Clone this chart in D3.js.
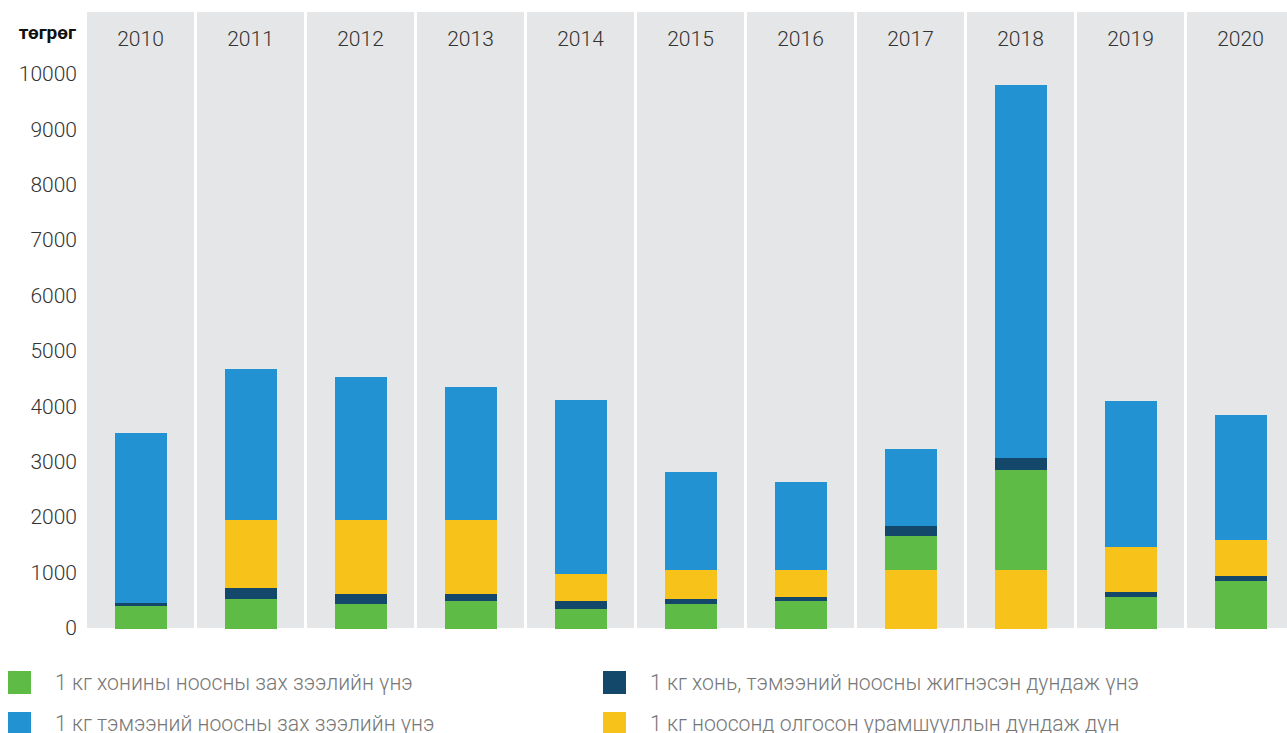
<!DOCTYPE html>
<html>
<head>
<meta charset="utf-8">
<script src="https://cdn.jsdelivr.net/npm/d3@7"></script>
<style>
  body { margin: 0; background: #fff; }
  svg { display: block; font-family: Roboto, "Noto Sans", sans-serif; }
</style>
</head>
<body>
<svg id="chart"></svg>
<script>
// data (tugrik)
var years = ["2010","2011","2012","2013","2014","2015","2016","2017","2018","2019","2020"]
var sheepPrice = [400, 523, 433, 487, 343, 433, 487, 1661, 2852, 560, 848]      // green
var camelPrice = [3520, 4675, 4530, 4350, 4115, 2816, 2635, 3231, 9801, 4097, 3845] // blue
var avgPrice   = [450, 722, 614, 614, 487, 523, 560, 1841, 3069, 650, 939]      // navy
var bonus      = [0, 1950, 1950, 1950, 975, 1047, 1047, 1047, 1047, 1462, 1588] // yellow
var yTicks = [0,1000,2000,3000,4000,5000,6000,7000,8000,9000,10000]

var series = [
    {key: "sheep", label: "1 кг хонины ноосны зах зээлийн үнэ", color: "#5dbb46", values: sheepPrice},
    {key: "camel", label: "1 кг тэмээний ноосны зах зээлийн үнэ", color: "#2392d2", values: camelPrice},
    {key: "avg", label: "1 кг хонь, тэмээний ноосны жигнэсэн дундаж үнэ", color: "#14486b", values: avgPrice},
    {key: "bonus", label: "1 кг ноосонд олгосон урамшууллын дундаж дүн", color: "#f7c21a", values: bonus}
]

var dimensions = {
    width: 1287,
    height: 733,
    margin: { top: 12, left: 87 }
}

var svg = d3.select("#chart")
    .attr("width", dimensions.width)
    .attr("height", dimensions.height)

var xScale = d3.scaleBand()
    .domain(years)
    .range([87, 1294])
    .paddingInner(3/110)
    .paddingOuter(0)

var yScale = d3.scaleLinear()
    .domain([0, 10000])
    .range([628, 74])

// grey column panels
svg.append("g")
    .attr("shape-rendering", "crispEdges")
    .selectAll("rect")
    .data(years)
    .enter()
    .append("rect")
    .attr("x", d => xScale(d))
    .attr("y", dimensions.margin.top)
    .attr("width", xScale.bandwidth())
    .attr("height", yScale(0) - dimensions.margin.top)
    .attr("fill", "#e5e6e8")

// year labels
svg.append("g")
    .selectAll("text")
    .data(years)
    .enter()
    .append("text")
    .attr("x", d => xScale(d) + xScale.bandwidth()/2)
    .attr("y", 46)
    .attr("text-anchor", "middle")
    .style("font-size", "21px")
    .style("font-weight", 300)
    .attr("fill", "#333")
    .text(d => d)

// y axis, labels only
var yAxis = svg.append("g")
    .attr("transform", "translate(77,0)")
    .call(d3.axisLeft(yScale).tickValues(yTicks).tickSize(0).tickPadding(0).tickFormat(d3.format("d")))
yAxis.select(".domain").remove()
yAxis.selectAll("text")
    .style("font-size", "21px")
    .style("font-weight", 300)
    .style("font-family", "Roboto, sans-serif")
    .attr("fill", "#333")

svg.append("text")
    .attr("x", 76)
    .attr("y", 39)
    .attr("text-anchor", "end")
    .style("font-size", "19px")
    .style("font-weight", 700)
    .attr("fill", "#111")
    .text("төгрөг")

// bars: every series starts from zero, tallest drawn first (behind)
var barWidth = 52
var barGroups = svg.append("g")
    .attr("shape-rendering", "crispEdges")
    .selectAll("g")
    .data(years)
    .enter()
    .append("g")

barGroups.selectAll("rect")
    .data(function(d, i) {
        return series.map(s => ({year: d, color: s.color, value: s.values[i]}))
            .filter(s => s.value > 0)
            .sort((a, b) => b.value - a.value)
    })
    .enter()
    .append("rect")
    .attr("x", d => Math.round(xScale(d.year) + (xScale.bandwidth() - barWidth)/2))
    .attr("y", d => Math.round(yScale(d.value)))
    .attr("width", barWidth)
    .attr("height", d => yScale(0) + 1 - Math.round(yScale(d.value)))
    .attr("fill", d => d.color)

// legend
var legendPos = [
    {x: 8, y: 671},
    {x: 8, y: 712},
    {x: 603, y: 671},
    {x: 603, y: 712}
]
var legend = svg.append("g")
    .selectAll("g")
    .data(series)
    .enter()
    .append("g")
    .attr("transform", (d, i) => "translate(" + legendPos[i].x + "," + legendPos[i].y + ")")

legend.append("rect")
    .attr("width", 23)
    .attr("height", 23)
    .attr("fill", d => d.color)

legend.append("text")
    .attr("x", 47)
    .attr("y", 19)
    .style("font-size", "21.2px")
    .style("font-weight", 300)
    .attr("fill", "#777")
    .text(d => d.label)
</script>
</body>
</html>
